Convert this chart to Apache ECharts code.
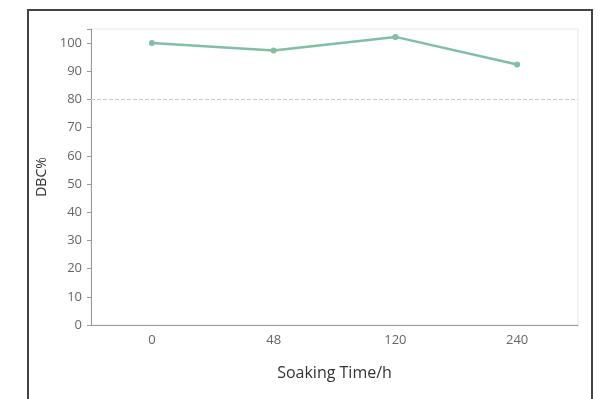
<!DOCTYPE html>
<html>
<head>
<meta charset="utf-8">
<script src="https://cdn.jsdelivr.net/npm/echarts@6/dist/echarts.min.js"></script>
<style>
html,body{margin:0;padding:0;background:#fff;}
#c{width:603px;height:399px;}
</style>
</head>
<body>
<div id="c"></div>
<script>
const categories = ['0', '48', '120', '240'];
const dbcValues = [100.0, 97.4, 102.2, 92.4];
const thresholdValue = 80;
const yTicks = { min: 0, max: 105, interval: 10 };

const chart = echarts.init(document.getElementById('c'), null, { renderer: 'canvas' });
const font = "'Open Sans', 'Noto Sans', sans-serif";
chart.setOption({
  animation: false,
  backgroundColor: '#fff',
  graphic: [{
    type: 'rect',
    shape: { x: 28, y: 10, width: 564, height: 420 },
    style: { fill: 'none', stroke: '#444', lineWidth: 2 },
    silent: true,
    z: 100
  }],
  grid: { left: 91, right: 25, top: 29, bottom: 74, show: true, borderColor: '#e8e8e8', borderWidth: 1 },
  xAxis: {
    type: 'category',
    data: categories,
    boundaryGap: true,
    name: 'Soaking Time/h',
    nameLocation: 'middle',
    nameGap: 40,
    nameTextStyle: { fontFamily: font, fontSize: 16, color: '#333' },
    axisLine: { lineStyle: { color: '#999' } },
    axisTick: { alignWithLabel: true, length: 4, lineStyle: { color: '#999' } },
    axisLabel: { fontFamily: font, fontSize: 13, color: '#666', margin: 9 },
    splitLine: { show: false }
  },
  yAxis: {
    type: 'value',
    min: yTicks.min,
    max: yTicks.max,
    interval: yTicks.interval,
    name: 'DBC%',
    nameLocation: 'middle',
    nameGap: 42,
    nameTextStyle: { fontFamily: font, fontSize: 14, color: '#333' },
    axisLine: { show: true, lineStyle: { color: '#999' } },
    axisTick: { show: true, length: 4, lineStyle: { color: '#999' } },
    axisLabel: { fontFamily: font, fontSize: 13, color: '#666', margin: 9,
      formatter: v => (v % 10 === 0 ? String(v) : '') },
    splitLine: { show: false }
  },
  series: [{
    type: 'line',
    data: dbcValues,
    symbol: 'circle',
    symbolSize: 6,
    lineStyle: { color: '#80bfa3', width: 2.5 },
    itemStyle: { color: '#80bfa3' },
    markLine: {
      silent: true,
      symbol: 'none',
      label: { show: false },
      lineStyle: { type: 'dashed', color: '#cccccc', width: 1 },
      data: [{ yAxis: thresholdValue }]
    }
  }]
});
</script>
</body>
</html>
